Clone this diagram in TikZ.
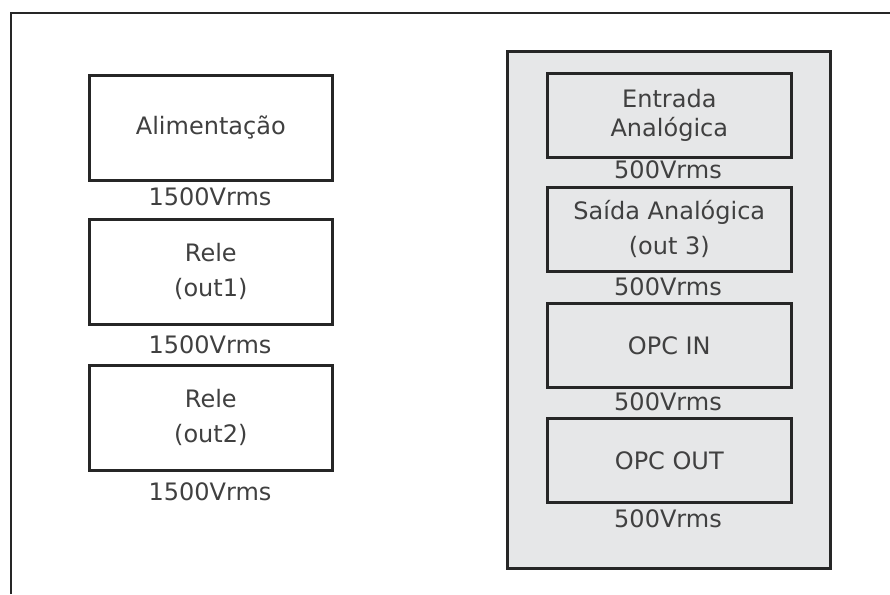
\documentclass[tikz,border=0pt]{standalone}
\usepackage{fontspec}
\setmainfont{DejaVu Sans}
\definecolor{txt}{HTML}{404040}
\definecolor{ln}{HTML}{262626}
\definecolor{panelgray}{HTML}{E6E7E8}
\begin{document}
\begin{tikzpicture}[x=1pt,y=-1pt,
  box/.style={draw=ln, line width=2.6pt, inner sep=0pt, text=txt, align=center,
    font=\fontsize{24}{35}\selectfont, anchor=north west},
  leftbox/.style={box, fill=white, minimum width=243pt, minimum height=105pt},
  rightbox/.style={box, minimum width=244pt, minimum height=84pt},
  lbl/.style={text=txt, inner sep=0pt, font=\fontsize{24}{28}\selectfont}
]
\useasboundingbox (0,0) rectangle (890,594);
% outer frame
\coordinate (fbl) at (11,594);
\coordinate (ftl) at (11,13);
\coordinate (ftr) at (890,13);
\draw[ln, line width=2.6pt] (fbl) -- (ftl) -- (ftr);

% left column
\node[leftbox] (alim) at (88,74) {Alimentação};
\node[lbl] (v1) at (210,197) {1500Vrms};
\node[leftbox] (rele1) at (88,218) {Rele\\(out1)};
\node[lbl] (v2) at (210,345) {1500Vrms};
\node[leftbox] (rele2) at (88,364) {Rele\\(out2)};
\node[lbl] (v3) at (210,492) {1500Vrms};

% right panel
\node[draw=ln, fill=panelgray, line width=2.6pt, minimum width=323pt, minimum height=517pt,
  inner sep=0pt, anchor=north west] (panel) at (506,50) {};
\node[rightbox, font=\fontsize{24}{29}\selectfont] (ain) at (546,72) {Entrada\\Analógica};
\node[lbl] (w1) at (668,170) {500Vrms};
\node[rightbox] (aout) at (546,186) {Saída Analógica\\(out 3)};
\node[lbl] (w2) at (668,287) {500Vrms};
\node[rightbox] (opcin) at (546,302) {OPC IN};
\node[lbl] (w3) at (668,402) {500Vrms};
\node[rightbox] (opcout) at (546,417) {OPC OUT};
\node[lbl] (w4) at (668,519) {500Vrms};
\end{tikzpicture}
\end{document}
